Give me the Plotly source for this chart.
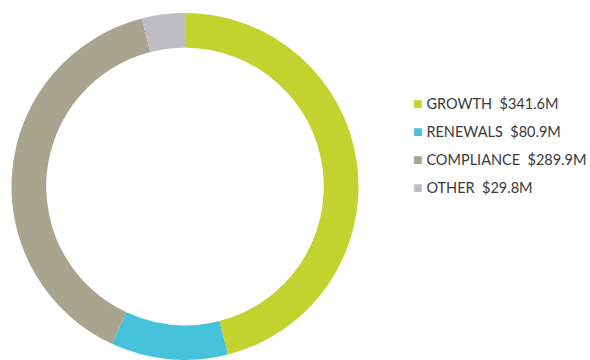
import plotly.graph_objects as go

categories = ["GROWTH", "RENEWALS", "COMPLIANCE", "OTHER"]
values = [341.6, 80.9, 289.9, 29.8]
colors = ["#C2D22E", "#45C3DA", "#A9A48E", "#BEBEC2"]

W, H = 590, 360
cx, cy, r = 185, 187, 174

fig = go.Figure()
fig.add_trace(go.Pie(
    labels=categories, values=values, sort=False, direction="clockwise",
    rotation=0, hole=0.80, marker=dict(colors=colors, line=dict(width=0)),
    textinfo="none", hoverinfo="label+value", showlegend=False,
    domain=dict(x=[(cx - r) / W, (cx + r) / W], y=[max(0, (H - cy - r) / H), (H - cy + r) / H]),
))

legend_x = 411 / W
for i, (c, v, col) in enumerate(zip(categories, values, colors)):
    y = 1 - (102 + 28.3 * i) / H
    fig.add_annotation(
        x=legend_x, y=y, xref="paper", yref="paper", xanchor="left", yanchor="middle",
        showarrow=False,
        text=f"<span style='color:{col};font-size:16px'>■</span> {c}  ${v:.1f}M",
        font=dict(family="Lato", size=14.5, color="#3a3a3a"),
    )

fig.update_layout(
    width=W, height=H, margin=dict(l=0, r=0, t=0, b=0),
    paper_bgcolor="white", plot_bgcolor="white",
)
fig.write_html("out.html")
